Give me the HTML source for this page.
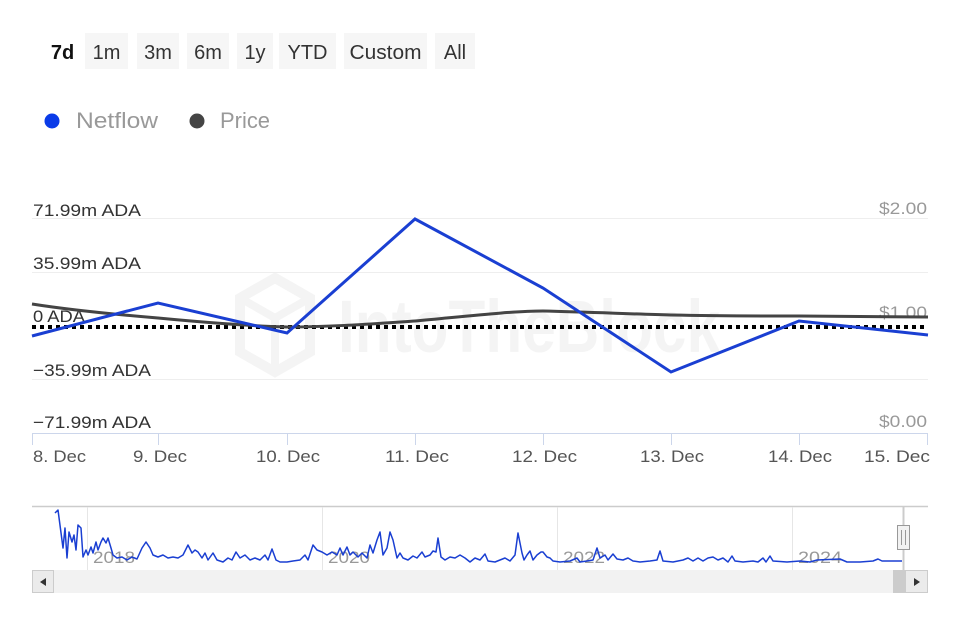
<!DOCTYPE html>
<html><head><meta charset="utf-8"><style>
html,body{margin:0;padding:0;background:#fff;width:960px;height:640px;overflow:hidden}
svg{display:block}
text{font-family:"Liberation Sans",sans-serif}
</style></head><body>
<svg width="960" height="640" viewBox="0 0 960 640" xmlns="http://www.w3.org/2000/svg">
<!-- range buttons -->
<g font-size="20" fill="#333" text-anchor="middle">
<rect x="85" y="33" width="43" height="36" fill="#f6f6f6"/>
<rect x="137" y="33" width="42" height="36" fill="#f6f6f6"/>
<rect x="187" y="33" width="42" height="36" fill="#f6f6f6"/>
<rect x="237" y="33" width="36" height="36" fill="#f6f6f6"/>
<rect x="279" y="33" width="57" height="36" fill="#f6f6f6"/>
<rect x="344" y="33" width="83" height="36" fill="#f6f6f6"/>
<rect x="435" y="33" width="40" height="36" fill="#f6f6f6"/>
<text x="62.5" y="59" font-weight="bold" fill="#111">7d</text>
<text x="106.5" y="59">1m</text>
<text x="158" y="59">3m</text>
<text x="208" y="59">6m</text>
<text x="255" y="59">1y</text>
<text x="307.5" y="59">YTD</text>
<text x="385.5" y="59" textLength="72" lengthAdjust="spacingAndGlyphs">Custom</text>
<text x="455" y="59">All</text>
</g>
<!-- legend -->
<circle cx="52" cy="121" r="7.5" fill="#0a3be8"/>
<text x="76" y="128" font-size="22" fill="#999" textLength="82" lengthAdjust="spacingAndGlyphs">Netflow</text>
<circle cx="197" cy="121" r="7.5" fill="#444"/>
<text x="220" y="128" font-size="22" fill="#999" textLength="50" lengthAdjust="spacingAndGlyphs">Price</text>

<!-- watermark -->
<g opacity="0.55">
<path d="M275 278 L310 298 L310 352 L275 372 L240 352 L240 298 Z" fill="none" stroke="#ececec" stroke-width="10"/>
<path d="M240 298 L275 318 L310 298 M275 318 L275 372" fill="none" stroke="#ececec" stroke-width="8"/>
<text x="338" y="352" font-size="74" font-weight="bold" fill="#ececec" textLength="382" lengthAdjust="spacingAndGlyphs">IntoTheBlock</text>
</g>

<!-- grid -->
<g stroke="#eeeeee" stroke-width="1">
<line x1="32" y1="218.5" x2="928" y2="218.5"/>
<line x1="32" y1="272.5" x2="928" y2="272.5"/>
<line x1="32" y1="379.5" x2="928" y2="379.5"/>
</g>
<!-- x axis -->
<line x1="32" y1="433.5" x2="928" y2="433.5" stroke="#ccd6eb" stroke-width="1"/>
<g stroke="#ccd6eb" stroke-width="1">
<line x1="32.5" y1="433" x2="32.5" y2="445"/>
<line x1="158.5" y1="433" x2="158.5" y2="445"/>
<line x1="287.5" y1="433" x2="287.5" y2="445"/>
<line x1="415.5" y1="433" x2="415.5" y2="445"/>
<line x1="543.5" y1="433" x2="543.5" y2="445"/>
<line x1="671.5" y1="433" x2="671.5" y2="445"/>
<line x1="799.5" y1="433" x2="799.5" y2="445"/>
<line x1="927.5" y1="433" x2="927.5" y2="445"/>
</g>

<!-- y labels left -->
<g font-size="17" fill="#333">
<text x="33" y="216" textLength="108" lengthAdjust="spacingAndGlyphs">71.99m ADA</text>
<text x="33" y="269" textLength="108" lengthAdjust="spacingAndGlyphs">35.99m ADA</text>
<text x="33" y="322" textLength="52" lengthAdjust="spacingAndGlyphs">0 ADA</text>
<text x="33" y="376" textLength="118" lengthAdjust="spacingAndGlyphs">−35.99m ADA</text>
<text x="33" y="428" textLength="118" lengthAdjust="spacingAndGlyphs">−71.99m ADA</text>
</g>
<!-- y labels right -->
<g font-size="17" fill="#999">
<text x="879" y="214" textLength="48" lengthAdjust="spacingAndGlyphs">$2.00</text>
<text x="879" y="318" textLength="48" lengthAdjust="spacingAndGlyphs">$1.00</text>
<text x="879" y="427" textLength="48" lengthAdjust="spacingAndGlyphs">$0.00</text>
</g>
<!-- x labels -->
<g font-size="17" fill="#555">
<text x="33" y="462" textLength="53" lengthAdjust="spacingAndGlyphs">8. Dec</text>
<text x="133" y="462" textLength="54" lengthAdjust="spacingAndGlyphs">9. Dec</text>
<text x="256" y="462" textLength="64" lengthAdjust="spacingAndGlyphs">10. Dec</text>
<text x="385" y="462" textLength="64" lengthAdjust="spacingAndGlyphs">11. Dec</text>
<text x="512" y="462" textLength="65" lengthAdjust="spacingAndGlyphs">12. Dec</text>
<text x="640" y="462" textLength="64" lengthAdjust="spacingAndGlyphs">13. Dec</text>
<text x="768" y="462" textLength="64" lengthAdjust="spacingAndGlyphs">14. Dec</text>
<text x="864" y="462" textLength="66" lengthAdjust="spacingAndGlyphs">15. Dec</text>
</g>

<!-- zero dotted line -->
<line x1="32" y1="327" x2="928" y2="327" stroke="#000" stroke-width="4" stroke-dasharray="4 4"/>

<!-- price -->
<path d="M32 304 C70 310 110 314 158 318 C200 322 250 326 287 327 C330 327 370 324 415 321 C460 317 510 311 543 311 C590 312 630 314 671 315 C720 316 760 316 799 316 C850 316 890 317 928 317" fill="none" stroke="#444" stroke-width="3"/>
<!-- netflow -->
<polyline points="32,336 158,303 287,333 415,219 543,288 671,372 799,321 928,335" fill="none" stroke="#1a3fd2" stroke-width="3" stroke-linejoin="miter"/>

<!-- navigator -->
<line x1="32" y1="506.5" x2="928" y2="506.5" stroke="#cccccc" stroke-width="1.5"/>
<g stroke="#e6e6e6" stroke-width="1">
<line x1="87.5" y1="507" x2="87.5" y2="570"/>
<line x1="322.5" y1="507" x2="322.5" y2="570"/>
<line x1="557.5" y1="507" x2="557.5" y2="570"/>
<line x1="792.5" y1="507" x2="792.5" y2="570"/>
</g>
<g font-size="17" fill="#999">
<text x="93" y="563" textLength="42" lengthAdjust="spacingAndGlyphs">2018</text>
<text x="328" y="563" textLength="42" lengthAdjust="spacingAndGlyphs">2020</text>
<text x="563" y="563" textLength="42" lengthAdjust="spacingAndGlyphs">2022</text>
<text x="798" y="563" textLength="44" lengthAdjust="spacingAndGlyphs">2024</text>
</g>
<polyline fill="none" stroke="#1a3fd2" stroke-width="1.5" stroke-linejoin="round" points="
55,513 58,510 63,548 65,528 67,558 69,532 72,542 74,535 76,550 78,525 81,528 83,557 86,550 88,555 91,547 93,553 96,542 98,550 101,542 103,538 106,543 108,538 111,548 113,555 117,558 122,557 127,560 132,557 137,559 142,548 146,542 150,548 153,555 158,557 163,555 168,558 173,557 178,558 183,555 188,545 192,553 195,550 198,552 202,558 205,553 208,560 213,553 217,560 223,562 228,558 232,560 236,552 240,558 245,555 250,560 255,558 260,560 265,555 268,560 272,549 276,560 280,562 287,562 293,561 300,560 305,555 308,560 313,545 317,550 322,552 327,555 332,552 337,555 340,548 343,555 347,547 350,555 353,552 358,557 362,553 367,558 370,545 373,553 377,540 380,532 383,555 387,548 390,532 393,540 397,558 400,553 403,558 408,560 413,556 417,558 422,552 425,557 430,555 433,551 436,552 438,538 441,557 445,560 450,557 455,558 460,555 465,558 470,562 475,558 480,560 485,554 488,561 495,562 500,560 505,558 510,561 515,555 518,533 522,553 524,560 527,555 530,551 533,560 537,555 541,552 543,552 547,557 550,558 553,561 560,562 570,561 577,558 580,562 587,561 593,560 597,548 600,558 605,555 608,560 613,554 617,559 623,560 628,558 633,561 640,562 650,561 657,560 660,551 663,561 673,562 683,560 688,558 693,561 698,558 703,561 708,558 713,557 718,560 723,558 728,562 732,556 735,561 743,562 753,561 758,562 763,558 766,562 770,556 773,561 787,562 800,561 810,562 817,560 840,559 847,562 860,562 873,561 878,559 882,561 902,561"/>
<!-- navigator handle -->
<line x1="903.5" y1="507" x2="903.5" y2="570" stroke="#cccccc" stroke-width="2"/>
<rect x="897.5" y="525.5" width="12" height="24" fill="#f2f2f2" stroke="#999" stroke-width="1"/>
<line x1="901.5" y1="530" x2="901.5" y2="545" stroke="#999" stroke-width="1"/>
<line x1="905.5" y1="530" x2="905.5" y2="545" stroke="#999" stroke-width="1"/>

<!-- scrollbar -->
<rect x="32" y="570" width="896" height="23" fill="#f2f2f2"/>
<rect x="32.5" y="570.5" width="21" height="22" fill="#ebebeb" stroke="#cccccc" stroke-width="1"/>
<path d="M40 582 L46 578 L46 586 Z" fill="#333"/>
<rect x="893" y="570" width="12" height="23" fill="#cccccc"/>
<rect x="905.5" y="570.5" width="22" height="22" fill="#ebebeb" stroke="#cccccc" stroke-width="1"/>
<path d="M920 582 L914 578 L914 586 Z" fill="#333"/>
</svg>
</body></html>
